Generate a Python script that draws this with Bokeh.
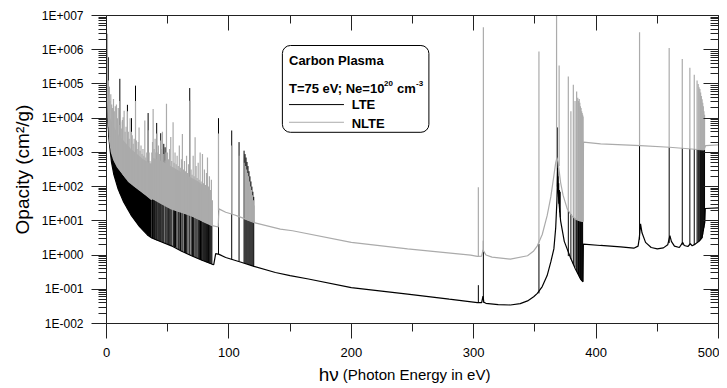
import numpy as np
from bokeh.plotting import figure
from bokeh.models import (ColumnDataSource, LinearAxis, LogAxis, FixedTicker,
                          CustomJSTickFormatter, Label, Range1d)
from bokeh.embed import file_html
from bokeh.resources import INLINE

# ---------------- data (photon energy in eV, opacity as log10 of cm^2/g) ----------------
# LTE continuum
LTE_E = [0.0, 0.3, 0.7, 1.2, 2.0, 3.0, 4.1, 6.0, 9.5, 14.0, 20.4, 27.0, 34.0, 37.0, 45.0,
         53.0, 61.0, 69.4, 78.0, 86.5, 87.6, 89.2, 92.0, 97.4, 110.0, 120.5, 138.0, 150.0,
         165.0, 200.0, 246.0, 280.0, 303.0, 306.5, 307.6, 308.3, 310.0, 320.0, 330.0, 338.0,
         344.0, 349.0, 352.0, 356.0, 360.0, 363.0, 365.5, 367.0, 368.0, 368.6, 369.3, 371.0,
         374.0, 379.0, 383.0, 387.3, 389.3, 389.6, 403.7, 420.0, 430.8, 434.3, 435.3, 436.3,
         437.5, 440.4, 445.0, 450.0, 455.0, 458.5, 460.3, 461.5, 464.0, 468.0, 470.8, 472.0,
         475.0, 477.0, 478.5, 481.0, 484.0, 486.5, 488.8, 489.2, 500.0]
LTE_LOG = [6.0, 5.3, 4.5, 3.9, 3.4, 3.05, 2.71, 2.35, 1.93, 1.55, 1.15, 0.83, 0.57, 0.50, 0.38,
           0.27, 0.12, -0.02, -0.15, -0.27, -0.28, 0.04, 0.02, -0.07, -0.21, -0.33, -0.51, -0.60,
           -0.70, -0.95, -1.14, -1.29, -1.39, -1.39, -1.2, -1.38, -1.41, -1.45, -1.46, -1.42,
           -1.34, -1.22, -1.12, -0.92, -0.60, -0.2, 0.18, 0.8, 1.6, 2.55, 1.7, 1.0,
           0.4, -0.07, -0.40, -0.70, -0.78, 0.32, 0.28, 0.24, 0.20, 0.26, 0.5, 0.91,
           0.65, 0.37, 0.22, 0.18, 0.21, 0.3, 0.57, 0.4, 0.26, 0.22, 0.37, 0.28,
           0.25, 0.33, 0.27, 0.32, 0.4, 0.5, 0.96, 1.36, 1.38]

# NLTE continuum
NLTE_E = [0.0, 0.3, 0.7, 1.2, 2.0, 2.7, 4.0, 6.0, 9.0, 12.2, 18.0, 25.8, 32.0, 36.8, 37.2,
          45.0, 53.0, 61.0, 69.4, 78.0, 86.5, 91.3, 91.8, 97.4, 104.8, 110.0, 120.5, 142.0,
          152.0, 200.0, 246.0, 297.5, 303.0, 306.5, 307.6, 308.4, 310.0, 315.0, 330.0, 344.0,
          349.0, 352.0, 356.0, 360.0, 363.0, 365.5, 367.0, 368.0, 369.0, 371.0, 373.0, 376.4,
          380.0, 383.2, 387.0, 389.3, 389.7, 403.7, 436.3, 460.0, 488.0, 489.5, 500.0]
NLTE_LOG = [6.6, 5.4, 4.7, 4.2, 3.7, 3.3, 3.0, 2.78, 2.57, 2.42, 2.15, 1.93, 1.76, 1.62, 1.66,
            1.5, 1.35, 1.25, 1.15, 1.0, 0.86, 0.82, 1.35, 1.25, 1.17, 1.10, 0.95, 0.76,
            0.71, 0.37, 0.18, 0.0, -0.04, -0.03, 0.15, 0.1, 0.0, -0.06, -0.12, -0.02,
            0.12, 0.27, 0.6, 1.15, 1.7, 2.32, 2.7, 2.85, 2.7, 2.12, 1.75, 1.35,
            1.15, 1.05, 1.0, 0.98, 3.30, 3.25, 3.2, 3.15, 3.07, 3.2, 3.22]

# LTE: unresolved line band (solid black between the two continua at low energy)
BAND_E = [1.3, 2.0, 3.0, 4.1, 6.0, 9.5, 14.0, 20.4, 27.0, 34.0, 37.0]
BAND_LO = [3.8, 3.4, 3.05, 2.71, 2.35, 1.93, 1.55, 1.15, 0.83, 0.57, 0.50]
BAND_HI = [4.15, 3.7, 3.25, 3.0, 2.78, 2.55, 2.33, 2.08, 1.9, 1.70, 1.62]

# NLTE: unresolved line band (solid gray just above the NLTE continuum)
GBAND_E = [1.5, 3.0, 6.0, 10.0, 15.0, 20.0, 25.0, 30.0, 36.5, 37.2, 45.0, 55.0, 65.0, 75.0,
           82.0, 86.5]
GBAND_LO = [4.0, 3.2, 2.78, 2.52, 2.27, 2.09, 1.95, 1.81, 1.63, 1.66, 1.5, 1.33, 1.2, 1.05,
            0.93, 0.86]
GBAND_HI = [4.4, 4.0, 3.75, 3.5, 3.3, 3.1, 2.95, 2.8, 2.65, 2.85, 2.75, 2.55, 2.35, 2.15,
            1.95, 1.5]

# LTE lines: position, base, peak
LTE_LINE_E = [1.5, 1.9, 10.9, 17.1, 20.4, 23.7, 34.0,
              37.6, 38.5, 39.3, 40.2, 41.0, 41.9, 42.7, 43.5, 44.3, 45.2, 46.0, 46.8, 47.9,
              48.7, 49.6, 50.5, 51.3, 52.5, 53.4, 54.6, 55.5, 56.4, 57.5, 58.6, 59.4, 60.5,
              61.6, 62.5, 63.8, 64.6, 65.5, 66.6, 68.0, 69.2, 70.2, 71.0, 72.2, 73.1, 74.0,
              75.0, 75.9, 76.8, 77.7, 78.6, 79.4, 80.2, 81.0, 81.8, 82.6, 83.3, 84.0, 84.7,
              85.4, 86.1,
              91.5, 102.3, 108.3, 112.4, 113.2, 114.0, 114.8, 115.6, 116.4, 117.2, 118.0,
              118.8, 119.6, 120.3,
              303.8, 307.9, 353.3, 368.3, 368.9, 369.5, 370.1, 370.7,
              377.3, 379.4, 381.4, 382.8, 384.1, 385.0, 385.6, 386.2, 386.7, 387.2, 387.7,
              388.2, 388.6, 389.0,
              435.5, 459.7, 470.4, 476.6, 480.2, 482.5, 483.4, 484.1, 484.8, 485.4, 486.0,
              486.6, 487.1, 487.6, 488.1, 488.6]
LTE_LINE_LO = [3.7, 3.45, 1.8, 1.35, 1.15, 0.99, 0.57,
               0.49, 0.47, 0.46, 0.45, 0.43, 0.42, 0.41, 0.40, 0.39, 0.38, 0.36, 0.35, 0.34,
               0.33, 0.32, 0.30, 0.29, 0.28, 0.26, 0.25, 0.23, 0.22, 0.19, 0.17, 0.15, 0.13,
               0.11, 0.10, 0.07, 0.06, 0.05, 0.03, 0.0, -0.02, -0.03, -0.05, -0.06, -0.08, -0.09,
               -0.11, -0.12, -0.14, -0.15, -0.16, -0.17, -0.18, -0.20, -0.21, -0.22, -0.23, -0.24,
               -0.25, -0.26, -0.27,
               0.03, -0.13, -0.19, -0.23, -0.24, -0.25, -0.26, -0.27, -0.28, -0.29, -0.30,
               -0.31, -0.32, -0.33,
               -1.39, -1.39, -1.12, 2.0, 1.8, 1.5, 1.25, 1.1,
               -0.03, -0.12, -0.26, -0.36, -0.47, -0.54, -0.58, -0.62, -0.66, -0.69, -0.72,
               -0.74, -0.76, -0.77,
               0.45, 0.35, 0.3, 0.3, 0.3, 0.36, 0.38, 0.40, 0.42, 0.44, 0.47,
               0.5, 0.6, 0.7, 0.8, 0.92]
LTE_LINE_HI = [5.78, 4.92, 5.15, 4.39, 4.0, 4.95, 4.15,
               1.65, 1.63, 1.62, 1.60, 3.86, 1.57, 1.55, 1.54, 3.56, 1.51, 1.49, 3.25, 3.15,
               1.43, 1.41, 1.39, 1.38, 1.36, 1.35, 1.34, 1.33, 1.31, 1.30, 1.28, 1.27, 1.26,
               1.25, 1.23, 1.22, 1.21, 1.20, 1.19, 4.88, 1.15, 1.13, 1.12, 1.10, 1.08, 1.07,
               1.05, 1.04, 1.02, 1.01, 0.99, 0.98, 0.97, 0.95, 0.94, 0.92, 0.91, 0.90, 0.88,
               0.87, 0.86,
               4.0, 3.64, 3.30, 3.05, 2.95, 2.85, 2.72, 2.6, 2.45, 2.3, 2.15,
               2.0, 1.85, 1.7,
               -0.88, 0.42, 0.33, 3.73, 2.3, 2.1, 1.9, 1.85,
               1.3, 1.2, 1.12, 1.07, 1.04, 1.03, 1.02, 1.01, 1.0, 1.0, 0.99,
               0.99, 0.98, 0.98,
               3.2, 3.15, 3.13, 3.11, 3.1, 3.09, 3.09, 3.09, 3.08, 3.08, 3.08,
               3.08, 3.07, 3.07, 3.07, 3.07]

# NLTE lines: position, base, peak
NLTE_LINE_E = [0.8, 1.5, 1.9, 2.8, 3.5, 4.2, 4.9, 5.7, 6.4, 7.2, 8.1, 8.9, 9.6, 10.4, 10.9,
               11.6, 12.4, 13.0, 13.6, 14.4, 15.2, 16.0, 17.1, 17.8, 18.5, 19.3, 20.4, 21.0,
               21.8, 22.6, 23.7, 24.4, 25.0, 25.9, 26.6, 27.4, 28.2, 29.0, 29.8, 30.5, 31.3,
               32.1, 32.9, 34.0, 34.8, 35.5, 36.3, 37.0, 37.6, 38.1, 38.9, 39.7, 40.3, 41.0,
               41.8, 42.4, 43.2, 44.3, 44.9, 45.7, 46.8, 47.9, 48.5, 49.0, 49.8, 50.6, 51.5,
               52.5, 53.3, 54.4, 55.2, 56.0, 56.9, 57.7, 58.6, 59.5, 60.3, 61.2, 62.0, 62.9,
               63.7, 64.5, 65.4, 66.2, 67.0, 68.0, 69.1, 69.9, 70.8, 71.6, 72.4, 73.2, 74.0,
               74.9, 75.7, 76.5, 77.3, 78.4, 79.2, 80.0, 80.8, 81.7, 82.5, 83.3, 84.1, 84.9,
               85.7, 86.5,
               91.5, 102.3, 108.3, 112.4, 113.6, 114.4, 115.2, 116.0, 116.8, 117.6, 118.4,
               119.2, 120.0, 120.6,
               303.8, 307.9,
               353.3, 367.7, 369.8, 377.3, 379.4, 381.4, 382.8, 384.1, 385.0, 385.6, 386.2,
               386.7, 387.2, 387.7, 388.2, 388.6, 389.0, 389.35,
               435.5, 459.7, 470.4, 476.6, 480.2, 482.5, 483.4, 484.1, 484.8, 485.4, 486.0,
               486.6, 487.1, 487.6, 488.1, 488.6]
NLTE_LINE_LO = [4.6, 4.0, 3.75, 3.3, 3.15, 3.0, 2.9, 2.81, 2.76, 2.7, 2.64, 2.58, 2.55, 2.51, 2.49,
                2.45, 2.41, 2.38, 2.35, 2.31, 2.27, 2.24, 2.19, 2.16, 2.14, 2.11, 2.08, 2.06,
                2.04, 2.01, 1.98, 1.96, 1.95, 1.93, 1.91, 1.89, 1.87, 1.84, 1.82, 1.81, 1.79,
                1.76, 1.74, 1.70, 1.68, 1.66, 1.63, 1.62, 1.65, 1.64, 1.62, 1.61, 1.60, 1.58,
                1.57, 1.56, 1.54, 1.52, 1.51, 1.50, 1.47, 1.45, 1.44, 1.42, 1.41, 1.39, 1.38,
                1.36, 1.35, 1.34, 1.33, 1.32, 1.30, 1.29, 1.28, 1.27, 1.26, 1.25, 1.24, 1.23,
                1.22, 1.21, 1.20, 1.19, 1.18, 1.17, 1.15, 1.14, 1.12, 1.11, 1.09, 1.08, 1.07,
                1.05, 1.04, 1.03, 1.01, 1.0, 0.98, 0.97, 0.95, 0.94, 0.92, 0.91, 0.9, 0.88,
                0.87, 0.86,
                1.3, 1.2, 1.13, 1.05, 1.04, 1.03, 1.02, 1.01, 1.0, 0.99, 0.98,
                0.97, 0.96, 0.95,
                -0.04, 0.12,
                0.35, 2.8, 2.6, 1.3, 1.2, 1.12, 1.07, 1.04, 1.03, 1.02, 1.01,
                1.0, 1.0, 0.99, 0.99, 0.98, 0.98, 0.98,
                3.2, 3.15, 3.13, 3.11, 3.1, 3.09, 3.09, 3.09, 3.08, 3.08, 3.08,
                3.08, 3.07, 3.07, 3.07, 3.07]
NLTE_LINE_HI = [6.47, 5.1, 4.6, 4.5, 4.7, 4.4, 4.3, 4.56, 4.2, 4.35, 4.4, 4.0, 4.3, 3.8, 4.5,
                3.9, 3.7, 3.95, 4.03, 4.22, 3.6, 3.75, 4.2, 3.6, 3.4, 4.0, 3.6, 3.5,
                3.25, 3.4, 4.5, 3.35, 3.1, 3.3, 3.73, 3.05, 3.2, 2.95, 3.1, 2.9, 3.93,
                2.85, 3.0, 3.65, 3.0, 2.75, 2.7, 3.0, 3.3, 4.27, 3.1, 3.4, 3.0, 3.55,
                3.0, 3.2, 2.95, 3.35, 3.1, 3.6, 2.95, 2.76, 3.0, 4.42, 3.0, 2.8, 3.1,
                3.45, 2.75, 3.88, 2.7, 3.0, 2.65, 2.9, 2.6, 3.2, 2.55, 2.8, 3.54, 2.5,
                2.75, 2.45, 2.9, 2.4, 2.65, 4.51, 2.5, 2.35, 2.9, 2.3, 3.44, 2.6, 2.25,
                2.7, 2.2, 3.0, 2.15, 2.95, 2.1, 2.5, 2.05, 2.4, 2.85, 2.0, 2.3, 1.9,
                2.2, 1.6,
                3.55, 3.2, 2.9, 2.7, 2.6, 2.5, 2.4, 2.3, 2.15, 2.0, 1.9,
                1.75, 1.6, 1.45,
                1.98, 6.66,
                5.95, 7.3, 5.54, 5.22, 4.2, 4.98, 4.5, 4.78, 4.6, 4.5, 4.56,
                4.45, 4.35, 4.3, 4.2, 4.15, 4.1, 4.05,
                6.51, 6.05, 5.73, 5.47, 5.27, 5.10, 5.0, 4.9, 4.85, 4.75, 4.65,
                4.55, 4.45, 4.35, 4.2, 4.1]

# axis ticks and texts
X_TICKS = [0, 100, 200, 300, 400, 500]
X_MINOR = [50, 150, 250, 350, 450]
Y_EXP = list(range(-2, 8))
Y_TITLE = "Opacity (cm²/g)"
X_TITLE_SYMBOL = "hν"
X_TITLE_TEXT = "(Photon Energy in eV)"
LEGEND_TITLE = "Carbon Plasma"
SERIES_NAMES = ["LTE", "NLTE"]

# ---------------- styling ----------------
FONT = "Liberation Sans"
GRAY = "#ABABAB"
AXIS_COLOR = "#222222"

def pw(a):
    return np.power(10.0, np.asarray(a, dtype=float))

Y_TICKS = [10.0 ** e for e in Y_EXP]
Y_MINOR = [m * 10.0 ** e for e in Y_EXP[:-1] for m in range(2, 10)]

p = figure(frame_width=612, frame_height=308,
           x_range=Range1d(0, 500), y_range=Range1d(1e-2, 1e7),
           y_axis_type="log", output_backend="svg", toolbar_location=None,
           min_border_left=106, min_border_right=1, min_border_top=15, min_border_bottom=65)
p.grid.visible = False
p.outline_line_color = None
p.background_fill_color = "white"
p.border_fill_color = "white"

# bottom axis
xb = p.xaxis[0]
xb.ticker = FixedTicker(ticks=X_TICKS, minor_ticks=X_MINOR)
xb.major_tick_out = 15
xb.major_tick_in = 0
xb.minor_tick_out = 8
xb.minor_tick_in = 0
xb.major_label_standoff = 9
xb.major_label_text_font = FONT
xb.major_label_text_font_size = "13px"
xb.major_label_text_color = "black"
xb.axis_line_color = AXIS_COLOR
xb.major_tick_line_color = AXIS_COLOR
xb.minor_tick_line_color = AXIS_COLOR
xb.axis_label = "\u00a0\u00a0" + X_TITLE_TEXT
xb.axis_label_text_font = FONT
xb.axis_label_text_font_size = "15px"
xb.axis_label_text_font_style = "normal"
xb.axis_label_text_color = "black"
xb.axis_label_standoff = 6

ylog_fmt = CustomJSTickFormatter(code="""
const e = Math.round(Math.log10(tick));
const s = e < 0 ? "-" : "+";
return "1E" + s + String(Math.abs(e)).padStart(3, "0");
""")
yl = p.yaxis[0]
yl.ticker = FixedTicker(ticks=Y_TICKS, minor_ticks=Y_MINOR)
yl.formatter = ylog_fmt
yl.major_tick_out = 15
yl.major_tick_in = 0
yl.minor_tick_out = 8
yl.minor_tick_in = 0
yl.major_label_standoff = 8
yl.major_label_text_font = FONT
yl.major_label_text_font_size = "12px"
yl.major_label_text_color = "black"
yl.axis_line_color = AXIS_COLOR
yl.major_tick_line_color = AXIS_COLOR
yl.minor_tick_line_color = AXIS_COLOR
yl.axis_label = Y_TITLE
yl.axis_label_text_font = FONT
yl.axis_label_text_font_size = "19px"
yl.axis_label_text_font_style = "normal"
yl.axis_label_text_color = "black"
yl.axis_label_standoff = 6

empty_fmt = CustomJSTickFormatter(code="return '';")
top = LinearAxis(ticker=FixedTicker(ticks=X_TICKS, minor_ticks=X_MINOR), formatter=empty_fmt,
                 major_label_text_font_size="0px", major_label_standoff=0,
                 major_tick_in=15, major_tick_out=0, minor_tick_in=8, minor_tick_out=0,
                 axis_line_color=AXIS_COLOR, major_tick_line_color=AXIS_COLOR,
                 minor_tick_line_color=AXIS_COLOR)
p.add_layout(top, "above")
right = LogAxis(ticker=FixedTicker(ticks=Y_TICKS, minor_ticks=Y_MINOR), formatter=empty_fmt,
                major_label_text_font_size="0px", major_label_standoff=0,
                major_tick_in=15, major_tick_out=0, minor_tick_in=8, minor_tick_out=0,
                axis_line_color=AXIS_COLOR, major_tick_line_color=AXIS_COLOR,
                minor_tick_line_color=AXIS_COLOR)
p.add_layout(right, "right")

# ---------------- spectra ----------------
p.varea(x=BAND_E, y1=pw(BAND_LO), y2=pw(BAND_HI), fill_color="black")
p.line(LTE_E, pw(LTE_LOG), line_color="black", line_width=1.2)
lte_lines = ColumnDataSource(dict(x=LTE_LINE_E, lo=pw(LTE_LINE_LO), hi=pw(LTE_LINE_HI)))
p.segment(x0="x", y0="lo", x1="x", y1="hi", source=lte_lines, line_color="black", line_width=1)

p.varea(x=GBAND_E, y1=pw(GBAND_LO), y2=pw(GBAND_HI), fill_color=GRAY)
p.line(NLTE_E, pw(NLTE_LOG), line_color=GRAY, line_width=1.2)
nlte_lines = ColumnDataSource(dict(x=NLTE_LINE_E, lo=pw(NLTE_LINE_LO), hi=pw(NLTE_LINE_HI)))
p.segment(x0="x", y0="lo", x1="x", y1="hi", source=nlte_lines, line_color=GRAY, line_width=1.2)

# ---------------- legend box ----------------
LX = 149.1
p.quad(left=143.7, right=263.4, top=10 ** 6.123, bottom=10 ** 3.587,
       fill_color="white", line_color="black", line_width=1, border_radius=8)

def lab(text, y, size="13px", x_off=0, y_off=0, x=LX):
    p.add_layout(Label(x=x, y=y, x_offset=x_off, y_offset=y_off, text=text, text_font=FONT,
                       text_font_style="bold", text_font_size=size, text_baseline="middle",
                       text_align="left", text_color="black"))

lab(LEGEND_TITLE, 10 ** 5.684)
y_t = 10 ** 4.865
lab("T=75 eV; Ne=10", y_t)
lab("20", y_t, size="8px", x_off=95, y_off=5)
lab("cm", y_t, x_off=108)
lab("-3", y_t, size="8px", x_off=127, y_off=5)
p.line([149.1, 194.0], [10 ** 4.397, 10 ** 4.397], line_color="black", line_width=1)
p.line([149.1, 194.0], [10 ** 3.88, 10 ** 3.88], line_color=GRAY, line_width=1)
lab(SERIES_NAMES[0], 10 ** 4.39, x=200.3)
lab(SERIES_NAMES[1], 10 ** 3.85, x=200.3)

# ---------------- larger "hν" of the x-axis title, placed in the bottom panel ----------------
p.add_layout(Label(x=173.4, y=32, x_units="data", y_units="screen", text=X_TITLE_SYMBOL,
                   text_align="left", text_baseline="alphabetic",
                   text_font=FONT, text_font_size="19px", text_color="black"), "below")

open("out.html", "w").write(file_html(p, INLINE))
